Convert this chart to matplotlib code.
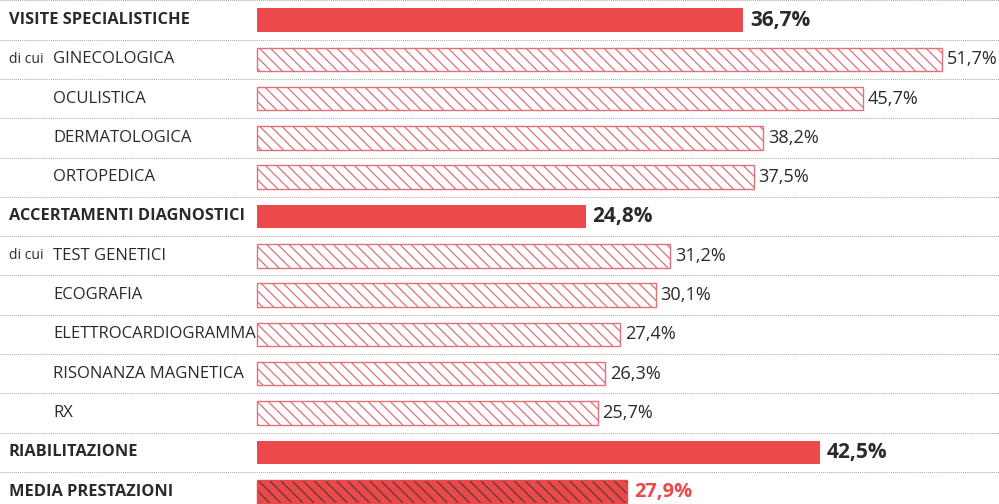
import matplotlib
matplotlib.use("Agg")
import matplotlib.pyplot as plt
import matplotlib.transforms as mtransforms

categories = ["VISITE SPECIALISTICHE", "GINECOLOGICA", "OCULISTICA", "DERMATOLOGICA",
              "ORTOPEDICA", "ACCERTAMENTI DIAGNOSTICI", "TEST GENETICI", "ECOGRAFIA",
              "ELETTROCARDIOGRAMMA", "RISONANZA MAGNETICA", "RX", "RIABILITAZIONE",
              "MEDIA PRESTAZIONI"]
values = [36.7, 51.7, 45.7, 38.2, 37.5, 24.8, 31.2, 30.1, 27.4, 26.3, 25.7, 42.5, 27.9]
kinds = ["main", "sub", "sub", "sub", "sub", "main", "sub", "sub", "sub", "sub", "sub", "main", "avg"]
dicui_rows = [1, 6]

RED = "#EC4A4A"
EDGE = "#E0707A"
DARK = "#2a2a2a"

plt.rcParams["font.family"] = ["Open Sans", "DejaVu Sans"]
plt.rcParams["hatch.linewidth"] = 0.9

W, H = 999, 504
fig = plt.figure(figsize=(W / 100, H / 100), dpi=100)
ax = fig.add_axes([0, 0, 1, 1])
pxper = 13.25
x0 = 257
ax.set_xlim(-x0 / pxper, (W - x0) / pxper)
rowh = 39.3
ytop = 20
ax.set_ylim((H - ytop) / rowh, -ytop / rowh)
ax.axis("off")

trans = mtransforms.blended_transform_factory(ax.transAxes, ax.transData)
bh = 0.6
HATCH = "\\\\\\"
for i, (c, v, k) in enumerate(zip(categories, values, kinds)):
    lab = f"{v:.1f}%".replace(".", ",")
    if k == "main":
        ax.barh(i, v, height=bh, color=RED, edgecolor="none")
        ax.text(v + 0.5, i, lab, va="center", ha="left",
                fontsize=15, fontweight="bold", color=DARK)
        ax.text(9 / W, i, c, transform=trans, va="center", ha="left",
                fontsize=11.8, fontweight="bold", color=DARK)
    elif k == "sub":
        ax.barh(i, v, height=bh, color="white", edgecolor=EDGE, hatch=HATCH, linewidth=1.0)
        ax.text(v + 0.35, i, lab, va="center", ha="left",
                fontsize=13.1, color=DARK)
        ax.text(53 / W, i, c, transform=trans, va="center", ha="left",
                fontsize=12, color=DARK)
    else:
        ax.barh(i, v, height=bh, color=RED, edgecolor="#5a3a3a", hatch=HATCH, linewidth=0)
        ax.barh(i, v, height=bh, color="none", edgecolor=RED, linewidth=1.0)
        ax.text(v + 0.6, i, lab, va="center", ha="left",
                fontsize=14.5, fontweight="bold", color=RED)
        ax.text(9 / W, i, c, transform=trans, va="center", ha="left",
                fontsize=11.8, fontweight="bold", color=DARK)

for r in dicui_rows:
    ax.text(9 / W, r, "di cui", transform=trans, va="center", ha="left",
            fontsize=10, color=DARK)

for i in range(len(categories)):
    yy = i - 0.5
    ax.plot([0, 1], [yy, yy], transform=trans, color="#a8a8a8", lw=0.7,
            linestyle=(0, (1, 1)))

fig.savefig("out.png", dpi=100)
